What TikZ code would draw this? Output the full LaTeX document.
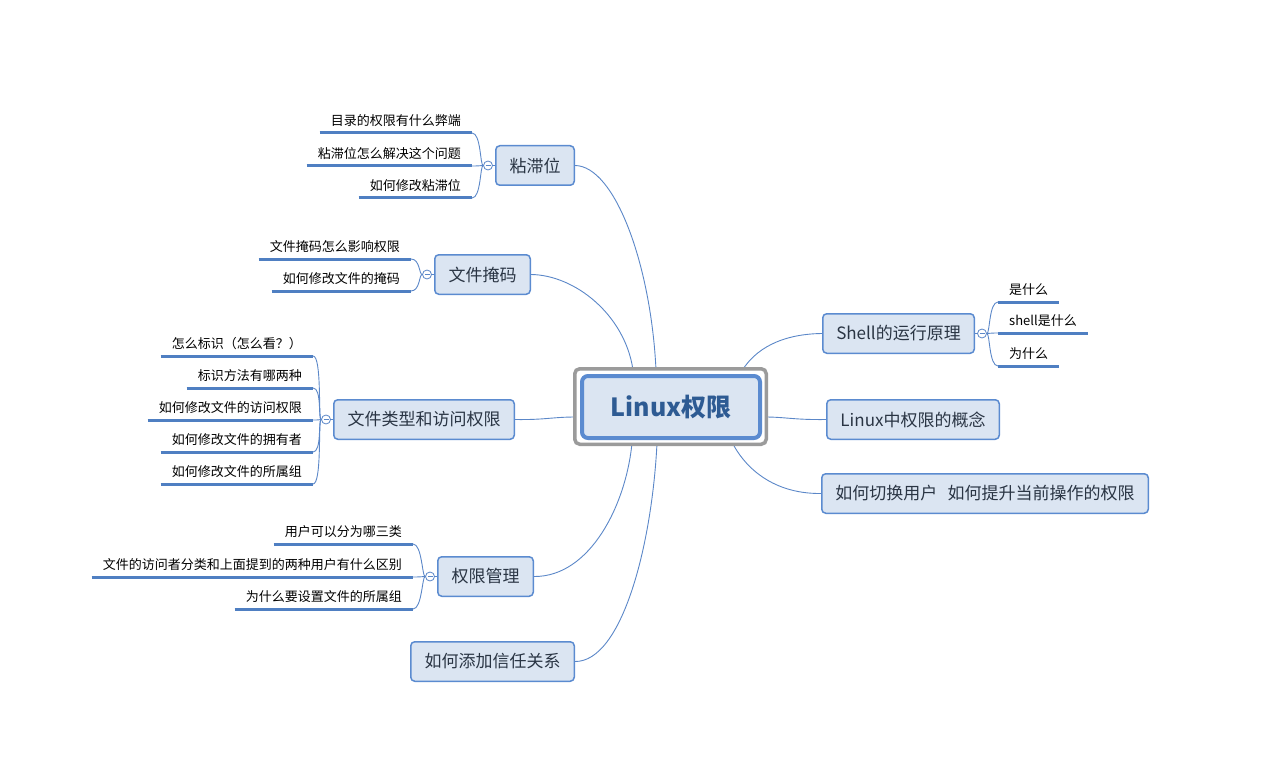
\documentclass[tikz,border=0pt]{standalone}
\usepackage{fontspec}
\setmainfont{Noto Sans CJK SC}
\usetikzlibrary{calc,backgrounds}
\definecolor{lineblue}{HTML}{5B87C8}
\definecolor{boxblue}{HTML}{5B8BD0}
\definecolor{boxfill}{HTML}{DBE5F2}
\definecolor{ctext}{HTML}{2E5B93}
\definecolor{ntext}{HTML}{2A3544}
\definecolor{ulblue}{HTML}{4F7FC2}
\definecolor{outgray}{HTML}{9B9B9B}
\begin{document}
\begin{tikzpicture}[x=1pt,y=-1pt,
 mainbox/.style={draw=boxblue, line width=1.5pt, fill=boxfill, rounded corners=4pt, minimum height=39.5pt, inner sep=0pt, text=ntext, font=\fontsize{17}{20}\selectfont},
 leaf/.style={inner xsep=11pt, inner ysep=4pt, text height=10pt, text depth=3pt, font=\fontsize{13}{15}\selectfont, text=black},
 uline/.style={draw=ulblue, line width=3pt},
 conn/.style={draw=lineblue, line width=0.9pt},
 fold/.style={circle, draw=lineblue, fill=white, line width=0.8pt, minimum size=9pt, inner sep=0pt,
   path picture={\draw[lineblue, line width=0.7pt] ([xshift=-2.5pt]path picture bounding box.center) -- ([xshift=2.5pt]path picture bounding box.center);}},
]
\useasboundingbox (0,0) rectangle (1281,767);

% central
\node[draw=outgray, line width=3.5pt, rounded corners=5pt, fill=white, minimum width=191.5pt, minimum height=75.5pt] (cout) at (670.5,406.5) {};
\node[draw=boxblue, line width=4pt, rounded corners=6pt, fill=boxfill, minimum width=178pt, minimum height=62pt, inner sep=0pt, text=ctext, font=\fontsize{25}{30}\selectfont\bfseries] (c) at (671,407) {Linux权限};

% main topics
\node[mainbox, minimum width=78.5pt] (n1) at (535,165.5) {粘滞位};
\node[mainbox, minimum width=95.5pt] (n2) at (482.5,274.5) {文件掩码};
\node[mainbox, minimum width=180.5pt] (n3) at (424,419.5) {文件类型和访问权限};
\node[mainbox, minimum width=95.5pt] (n4) at (485.5,576.5) {权限管理};
\node[mainbox, minimum width=163.5pt] (n5) at (492.5,661.5) {如何添加信任关系};
\node[mainbox, minimum width=151.5pt] (r1) at (898.5,333.5) {Shell的运行原理};
\node[mainbox, minimum width=172.5pt] (r2) at (913,419.5) {Linux中权限的概念};
\node[mainbox, minimum width=326.5pt] (r3) at (985,493.5) {如何切换用户\hspace{0.6em}如何提升当前操作的权限};

% fold circles
\node[fold] (f1) at ($(n1.west)+(-7,0)$) {};
\node[fold] (f2) at ($(n2.west)+(-7,0)$) {};
\node[fold] (f3) at ($(n3.west)+(-7,0)$) {};
\node[fold] (f4) at ($(n4.west)+(-7,0)$) {};
\node[fold] (f6) at ($(r1.east)+(7,0)$) {};

% leaves
\node[leaf, anchor=south east] (l11) at (472,133) {目录的权限有什么弊端};
\node[leaf, anchor=south east] (l12) at (472,166) {粘滞位怎么解决这个问题};
\node[leaf, anchor=south east] (l13) at (472,198) {如何修改粘滞位};

\node[leaf, anchor=south east] (l21) at (411,259) {文件掩码怎么影响权限};
\node[leaf, anchor=south east] (l22) at (411,291) {如何修改文件的掩码};

\node[leaf, anchor=south east] (l31) at (313,356) {怎么标识（怎么看？）};
\node[leaf, anchor=south east] (l32) at (313,388) {标识方法有哪两种};
\node[leaf, anchor=south east] (l33) at (313,420) {如何修改文件的访问权限};
\node[leaf, anchor=south east] (l34) at (313,452) {如何修改文件的拥有者};
\node[leaf, anchor=south east] (l35) at (313,484) {如何修改文件的所属组};

\node[leaf, anchor=south east] (l41) at (413,544) {用户可以分为哪三类};
\node[leaf, anchor=south east] (l42) at (413,577) {文件的访问者分类和上面提到的两种用户有什么区别};
\node[leaf, anchor=south east] (l43) at (413,609) {为什么要设置文件的所属组};

\node[leaf, anchor=south west] (s1) at (998,302) {是什么};
\node[leaf, anchor=south west] (s2) at (998,333) {shell是什么};
\node[leaf, anchor=south west] (s3) at (998,366) {为什么};

% underlines
\foreach \l in {l11,l12,l13,l21,l22,l31,l32,l33,l34,l35,l41,l42,l43,s1,s2,s3}
  \draw[uline] (\l.south west) -- (\l.south east);

% brackets
\foreach \f/\l in {f1/l11,f1/l12,f1/l13,f2/l21,f2/l22,f3/l31,f3/l32,f3/l33,f3/l34,f3/l35,f4/l41,f4/l42,f4/l43}
  \draw[conn] (\f.west) .. controls +(-3,0) and +(9,0) .. (\l.south east);
\foreach \l in {s1,s2,s3}
  \draw[conn] (f6.east) .. controls +(3,0) and +(-9,0) .. (\l.south west);

% circle to topic
\draw[conn] (f1.east) -- (n1.west);
\draw[conn] (f2.east) -- (n2.west);
\draw[conn] (f3.east) -- (n3.west);
\draw[conn] (f4.east) -- (n4.west);
\draw[conn] (f6.west) -- (r1.east);

% central connectors
\begin{pgfonlayer}{background}
\draw[conn] (n1.east) .. controls (615,166) and (651,265) .. ($(cout.north)+(-14.5,3)$);
\draw[conn] (n2.east) .. controls (575,275) and (625,315) .. ($(cout.north)+(-37.5,3)$);
\draw[conn] (n3.east) .. controls (545,420) and (552,417) .. ($(cout.west)+(3,10.5)$);
\draw[conn] (n4.east) .. controls (590,577) and (626,505) .. ($(cout.south)+(-38.5,-3)$);
\draw[conn] (n5.east) .. controls (622,662) and (652,545) .. ($(cout.south)+(-13.5,-3)$);
\draw[conn] (r1.west) .. controls (780,334) and (755,350) .. ($(cout.north)+(72,3)$);
\draw[conn] (r2.west) .. controls (795,420) and (785,417) .. ($(cout.east)+(-3,10.5)$);
\draw[conn] (r3.west) .. controls (768,494) and (742,462) .. ($(cout.south)+(62,-3)$);
\end{pgfonlayer}
\end{tikzpicture}
\end{document}
